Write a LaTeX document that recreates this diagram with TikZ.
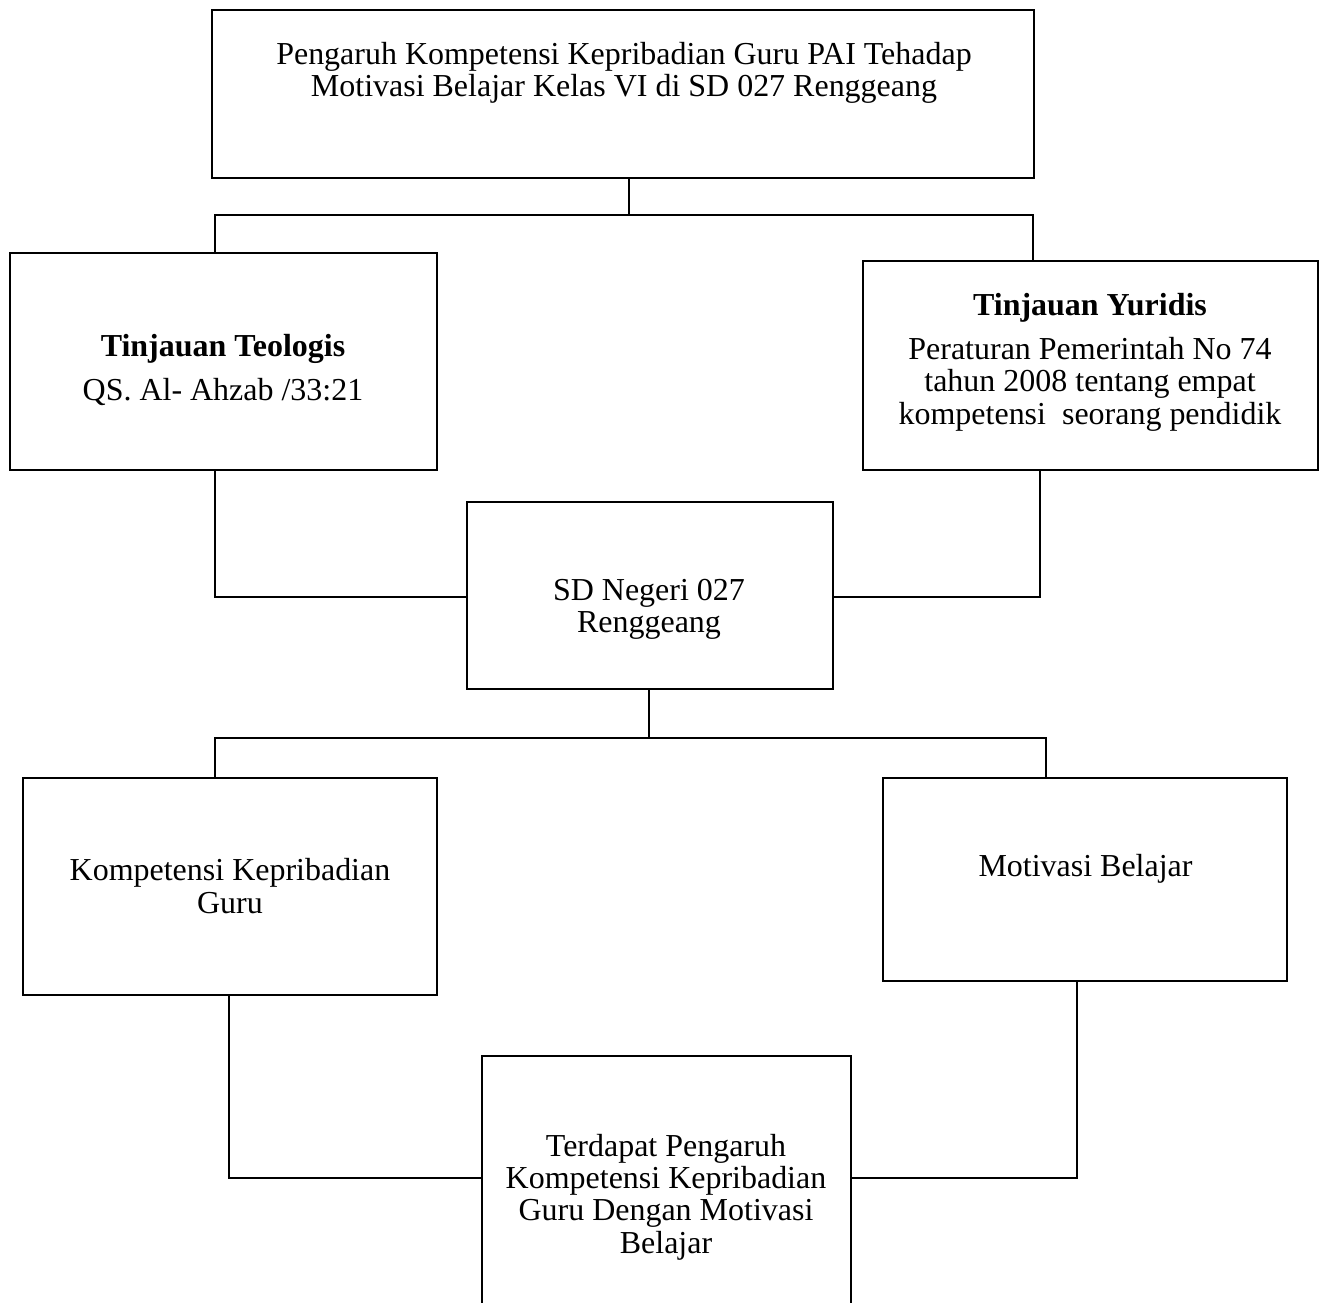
\documentclass[tikz,border=0pt]{standalone}
\usepackage{fontspec}
\setmainfont{Liberation Serif}

\begin{document}
\begin{tikzpicture}[x=0.02cm, y=-0.02cm, line width=1.3pt,
    main/.style = {draw, rectangle, inner sep=0pt},
    txt/.style = {align=center, inner sep=0pt, font=\fontsize{18.2}{18.4}\selectfont}]
    \clip (0,0) rectangle (1322,1302);
    % boxes
    \node[main, minimum width=16.44cm, minimum height=3.36cm] (top) at (623,94) {};
    \node[main, minimum width=8.54cm, minimum height=4.34cm] (teo) at (223.5,361.5) {};
    \node[main, minimum width=9.1cm, minimum height=4.18cm] (yur) at (1090.5,365.5) {};
    \node[main, minimum width=7.32cm, minimum height=3.74cm] (sd) at (650,595.5) {};
    \node[main, minimum width=8.28cm, minimum height=4.34cm] (komp) at (230,886.5) {};
    \node[main, minimum width=8.08cm, minimum height=4.06cm] (mot) at (1085,879.5) {};
    \node[main, minimum width=7.38cm, minimum height=5.48cm] (hasil) at (666.5,1193) {};
    % texts
    \node[txt] (top-t) at (624,73) {Pengaruh Kompetensi Kepribadian Guru PAI Tehadap\\Motivasi Belajar Kelas VI di SD 027 Renggeang};
    \node[txt] (teo-t) at (223,370) {\textbf{Tinjauan Teologis}\\[7pt]QS. Al- Ahzab /33:21};
    \node[txt] (yur-t) at (1090,362) {\textbf{Tinjauan Yuridis}\\[7pt]Peraturan Pemerintah No 74\\tahun 2008 tentang empat\\kompetensi\ \ seorang pendidik};
    \node[txt] (sd-t) at (649,609) {SD Negeri 027\\Renggeang};
    \node[txt] (komp-t) at (230,886) {Kompetensi Kepribadian\\Guru};
    \node[txt] (mot-t) at (1085.5,869) {Motivasi Belajar};
    \node[txt] (hasil-t) at (666,1197) {Terdapat Pengaruh\\Kompetensi Kepribadian\\Guru Dengan Motivasi\\Belajar};
    % junctions
    \coordinate (a0) at (629,215);
    \coordinate (a1) at (215,215);
    \coordinate (a2) at (1033,215);
    \coordinate (b1) at (215,597);
    \coordinate (b2) at (1040,597);
    \coordinate (c0) at (649,738);
    \coordinate (c1) at (215,738);
    \coordinate (c2) at (1046,738);
    \coordinate (d1) at (229,1178);
    \coordinate (d2) at (1077,1178);
    % lines
    \draw (top.south -| a0) -- (a0);
    \draw (teo.north -| a1) -- (a1) -- (a2) -- (yur.north -| a2);
    \draw (teo.south -| b1) -- (b1) -- (sd.west |- b1);
    \draw (yur.south -| b2) -- (b2) -- (sd.east |- b2);
    \draw (sd.south -| c0) -- (c0);
    \draw (komp.north -| c1) -- (c1) -- (c2) -- (mot.north -| c2);
    \draw (komp.south -| d1) -- (d1) -- (hasil.west |- d1);
    \draw (mot.south -| d2) -- (d2) -- (hasil.east |- d2);
\end{tikzpicture}
\end{document}
